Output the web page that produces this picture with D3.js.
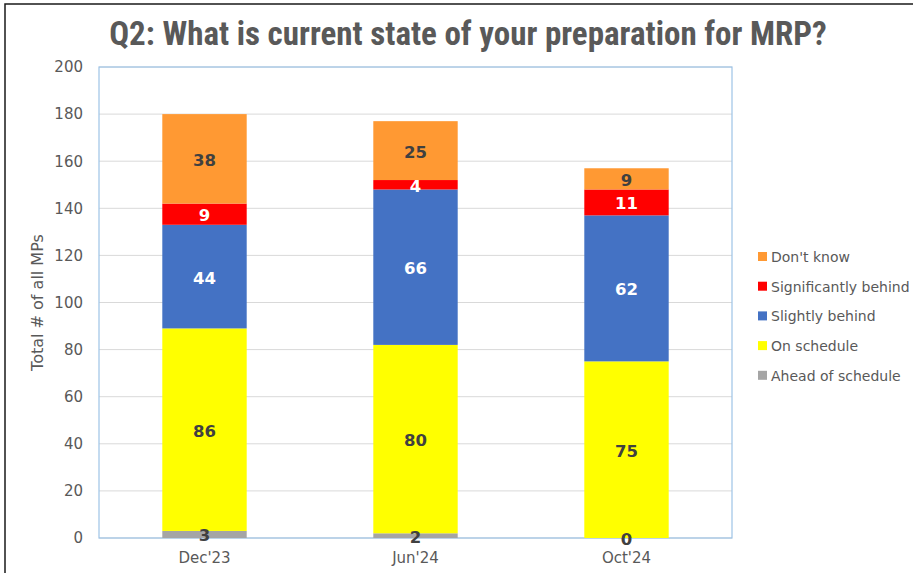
<!DOCTYPE html>
<html>
<head>
<meta charset="utf-8">
<script src="https://cdn.jsdelivr.net/npm/d3@7"></script>
<style>
  body { margin: 0; background: #fff; }
  svg { display: block; }
</style>
</head>
<body>
<script>
const largura = 913;
const altura = 573;

// dados
const periodos = ["Dec'23", "Jun'24", "Oct'24"];
const series = ["Ahead of schedule", "On schedule", "Slightly behind", "Significantly behind", "Don't know"];
const adiantado = [3, 2, 0];
const noPrazo = [86, 80, 75];
const poucoAtrasado = [44, 66, 62];
const muitoAtrasado = [9, 4, 11];
const naoSabe = [38, 25, 9];
const ticksY = [0, 20, 40, 60, 80, 100, 120, 140, 160, 180, 200];

const cores = ["#A5A5A5", "#FFFF00", "#4472C4", "#FF0000", "#FF9933"];
const corTexto = ["#404040", "#404040", "#ffffff", "#ffffff", "#404040"];

const valores = [adiantado, noPrazo, poucoAtrasado, muitoAtrasado, naoSabe];
const tabela = periodos.map((p, i) => {
  const linha = { periodo: p };
  series.forEach((s, j) => linha[s] = valores[j][i]);
  return linha;
});
const pilhas = d3.stack().keys(series)(tabela);

const area = { x0: 99, x1: 732, y0: 67, y1: 538 };
const fonte = "'DejaVu Sans', Verdana, sans-serif";

const svg = d3.select("body").append("svg")
  .attr("width", largura)
  .attr("height", altura);

svg.append("rect") // moldura
  .attr("x", 5).attr("y", 4)
  .attr("width", largura + 10).attr("height", altura + 10)
  .attr("fill", "#fff")
  .attr("stroke", "#1a1a1a").attr("stroke-width", 1.5);

const x = d3.scaleBand().domain(periodos).range([area.x0, area.x1]).paddingInner(0.6).paddingOuter(0.3);
const y = d3.scaleLinear().domain([0, 200]).range([area.y1, area.y0]);

svg.append("g") // grade
  .selectAll("line").data(ticksY).join("line")
  .attr("x1", area.x0).attr("x2", area.x1)
  .attr("y1", d => y(d)).attr("y2", d => y(d))
  .attr("stroke", "#d9d9d9").attr("stroke-width", 1);

svg.append("rect") // borda da area
  .attr("x", area.x0).attr("y", area.y0)
  .attr("width", area.x1 - area.x0).attr("height", area.y1 - area.y0)
  .attr("fill", "none").attr("stroke", "#9DC3E6").attr("stroke-width", 1.2);

const eixoY = svg.append("g")
  .attr("transform", `translate(${area.x0},0)`)
  .call(d3.axisLeft(y).tickValues(ticksY).tickSize(0).tickPadding(16));
eixoY.select(".domain").remove();
eixoY.selectAll("text")
  .attr("font-family", fonte)
  .attr("font-size", 15).attr("fill", "#595959");

const eixoX = svg.append("g")
  .attr("transform", `translate(0,${area.y1})`)
  .call(d3.axisBottom(x).tickSize(0).tickPadding(14));
eixoX.select(".domain").remove();
eixoX.selectAll("text")
  .attr("font-family", fonte)
  .attr("font-size", 15).attr("fill", "#595959");

const grupos = svg.append("g").selectAll("g").data(pilhas).join("g")
  .attr("fill", (d, i) => cores[i]);

grupos.selectAll("rect").data(d => d).join("rect")
  .attr("x", d => x(d.data.periodo))
  .attr("width", x.bandwidth())
  .attr("y", d => y(d[1]))
  .attr("height", d => y(d[0]) - y(d[1]));

svg.append("g").selectAll("g").data(pilhas).join("g")
  .each(function (s, i) {
    d3.select(this).selectAll("text").data(s).join("text")
      .attr("x", d => x(d.data.periodo) + x.bandwidth() / 2)
      .attr("y", d => y((d[0] + d[1]) / 2) + 1)
      .attr("dy", "0.36em")
      .attr("text-anchor", "middle")
      .attr("font-family", fonte)
      .attr("font-weight", "bold")
      .attr("font-size", 16.5)
      .attr("fill", corTexto[i])
      .text(d => d[1] - d[0]);
  });

svg.append("text") // titulo
  .attr("x", 468).attr("y", 45)
  .attr("text-anchor", "middle")
  .attr("font-family", "'Liberation Sans Narrow', 'Roboto Condensed', 'Liberation Sans', sans-serif")
  .attr("font-weight", "bold")
  .attr("font-size", 33)
  .attr("fill", "#595959")
  .text("Q2: What is current state of your preparation for MRP?");

svg.append("text") // titulo eixo y
  .attr("transform", `translate(43,${(area.y0 + area.y1) / 2}) rotate(-90)`)
  .attr("text-anchor", "middle")
  .attr("font-family", fonte)
  .attr("font-size", 16)
  .attr("fill", "#595959")
  .text("Total # of all MPs");

const legenda = svg.append("g").selectAll("g")
  .data(series.slice().reverse()).join("g")
  .attr("transform", (d, i) => `translate(758,${257 + i * 29.7})`);

legenda.append("rect")
  .attr("x", 0).attr("y", -5).attr("width", 9).attr("height", 9)
  .attr("fill", d => cores[series.indexOf(d)]);

legenda.append("text")
  .attr("x", 13).attr("y", 0).attr("dy", "0.35em")
  .attr("font-family", fonte)
  .attr("font-size", 14)
  .attr("fill", "#595959")
  .text(d => d);
</script>
</body>
</html>
